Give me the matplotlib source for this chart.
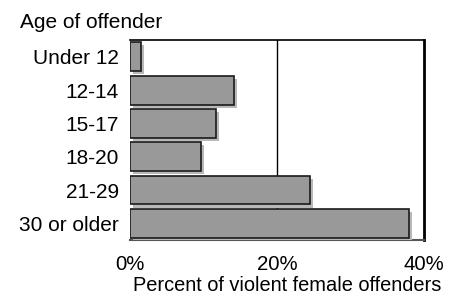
import matplotlib
matplotlib.use("Agg")
import matplotlib.pyplot as plt
import matplotlib.patheffects as pe
from matplotlib.ticker import MultipleLocator, FuncFormatter

plt.rcParams['font.family'] = ['Liberation Sans', 'DejaVu Sans']

# datos
age_groups = ["Under 12", "12-14", "15-17", "18-20", "21-29", "30 or older"]
percent = [1.5, 14.2, 11.7, 9.7, 24.5, 37.9]

fig = plt.figure(figsize=(4.64, 2.97), dpi=100)
ax = fig.add_axes([0.280, 0.192, 0.634, 0.673])

ypos = list(range(len(age_groups)))
bars = ax.barh(ypos, percent, height=0.87, color='#999999',
               edgecolor='#1a1a1a', linewidth=1.2, zorder=3)
for b in bars:
    b.set_path_effects([pe.SimplePatchShadow(offset=(2.2, -2.2),
                                             shadow_rgbFace='#b8b8b8', alpha=1.0),
                        pe.Normal()])

ax.axvline(20, color='black', linewidth=1, zorder=1)

ax.set_xlim(0, 40)
ax.set_ylim(len(age_groups) - 0.5, -0.5)
ax.set_yticks(ypos)
ax.set_yticklabels(age_groups, fontsize=15)
ax.xaxis.set_major_locator(MultipleLocator(20))
ax.xaxis.set_minor_locator(MultipleLocator(4))
ax.xaxis.set_major_formatter(FuncFormatter(lambda v, p: f"{v:.0f}%"))
ax.tick_params(axis='x', which='major', length=0, labelsize=14.7, pad=11)
ax.tick_params(axis='x', which='minor', direction='in', length=2, width=0.8,
               color='#444444')
ax.tick_params(axis='y', length=0, pad=8)

ax.set_xlabel("Percent of violent female offenders", fontsize=14.4,
              labelpad=1, x=0.534)

ax.spines['top'].set_linewidth(1.2)
ax.spines['right'].set_linewidth(2)
ax.spines['bottom'].set_color('#555555')
ax.spines['bottom'].set_linewidth(1.5)
ax.spines['left'].set_visible(False)

fig.text(20 / 464, 1 - 22 / 297, "Age of offender", fontsize=15,
         ha='left', va='center')

fig.savefig("out.png", dpi=100, facecolor='white')
